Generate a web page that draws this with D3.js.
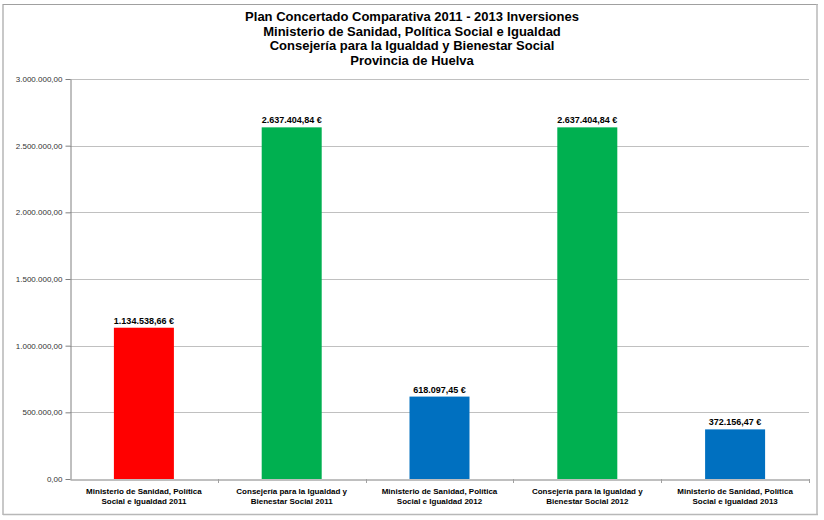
<!DOCTYPE html>
<html><head><meta charset="utf-8">
<script src="https://cdn.jsdelivr.net/npm/d3@7"></script>
<style>body{margin:0;background:#fff}svg{display:block;font-family:"Liberation Sans",Arial,sans-serif}</style>
</head><body><svg id="c" width="824" height="520"></svg>
<script>
const titleLines = ["Plan Concertado Comparativa 2011 - 2013 Inversiones","Ministerio de Sanidad, Política Social e Igualdad","Consejería para la Igualdad y Bienestar Social","Provincia de Huelva"];
const categories = [
  ["Ministerio de Sanidad, Política","Social e Igualdad  2011"],
  ["Consejería para la Igualdad y","Bienestar Social  2011"],
  ["Ministerio de Sanidad, Política","Social e Igualdad 2012"],
  ["Consejería para la Igualdad y","Bienestar Social  2012"],
  ["Ministerio de Sanidad, Política","Social e Igualdad 2013"]
];
const values = [1134538.66, 2637404.84, 618097.45, 2637404.84, 372156.47];
const colors = ["#ff0000","#00b050","#0070c0","#00b050","#0070c0"];
const yTicks = [0,500000,1000000,1500000,2000000,2500000,3000000];

const fmtLoc = d3.formatLocale({decimal:",",thousands:".",grouping:[3],currency:["","\u00a0€"]});
const fmtTick = fmtLoc.format(",.2f");
const fmtVal = v => fmtLoc.format(",.2f")(v) + " €";

const svg = d3.select("#c");
// outer frame
svg.append("line").attr("x1",3).attr("x2",3).attr("y1",4).attr("y2",515).attr("stroke","#c8c8c8").attr("stroke-width",2);
svg.append("line").attr("x1",3).attr("x2",818).attr("y1",4.5).attr("y2",4.5).attr("stroke","#a0a0a0").attr("stroke-width",1);
svg.append("line").attr("x1",817).attr("x2",817).attr("y1",4).attr("y2",515).attr("stroke","#b8b8b8").attr("stroke-width",1.5);
svg.append("line").attr("x1",3).attr("x2",818).attr("y1",514.5).attr("y2",514.5).attr("stroke","#b8b8b8").attr("stroke-width",1.5);

const m = {l:70, r:809, t:79, b:479};
const x = d3.scaleBand().domain(d3.range(categories.length)).range([m.l,m.r]).paddingInner(0).paddingOuter(0);
const y = d3.scaleLinear().domain([0,3000000]).range([m.b,m.t]);

// title
const tt = svg.append("text").attr("text-anchor","middle").attr("font-weight","bold").attr("font-size",13).attr("fill","#000");
titleLines.forEach((t,i)=>tt.append("tspan").attr("x",412).attr("y",21+i*14.5).text(t));

// gridlines
svg.append("g").selectAll("line").data(yTicks.filter(d=>d>0)).join("line")
  .attr("x1",m.l).attr("x2",m.r).attr("y1",d=>Math.round(y(d))+0.5).attr("y2",d=>Math.round(y(d))+0.5)
  .attr("stroke","#c0c0c0").attr("stroke-width",1.2);

// y axis
const ya = svg.append("g").attr("transform",`translate(${m.l+0.5},0)`)
  .call(d3.axisLeft(y).tickValues(yTicks).tickFormat(fmtTick).tickSize(5).tickSizeOuter(0));
ya.select(".domain").attr("stroke","#808080");
ya.selectAll(".tick line").attr("stroke","#808080");
ya.selectAll(".tick text").attr("font-size",8).attr("fill","#333").attr("font-family","Liberation Sans, Arial, sans-serif").attr("x",-8);

// bars
const bw = 60;
svg.append("g").selectAll("rect").data(values).join("rect")
  .attr("x",(d,i)=>x(i)+x.bandwidth()/2-bw/2).attr("width",bw)
  .attr("y",d=>y(d)).attr("height",d=>y(0)-y(d)).attr("fill",(d,i)=>colors[i]);

// value labels
svg.append("g").selectAll("text").data(values).join("text")
  .attr("x",(d,i)=>x(i)+x.bandwidth()/2).attr("y",d=>y(d)-4)
  .attr("text-anchor","middle").attr("font-weight","bold").attr("font-size",9).attr("fill","#000")
  .text(fmtVal);

// x axis
const xa = svg.append("g").attr("transform",`translate(0,${m.b+0.5})`)
  .call(d3.axisBottom(x).tickValues([]).tickSizeOuter(0));
xa.select(".domain").attr("stroke","#808080");
// band boundary ticks
svg.append("g").selectAll("line").data(d3.range(1,categories.length+1)).join("line")
  .attr("x1",i=>Math.round(i===categories.length? m.r : x(i))+0.5).attr("x2",i=>Math.round(i===categories.length? m.r : x(i))+0.5)
  .attr("y1",m.b).attr("y2",m.b+4).attr("stroke","#a0a0a0");

// category labels
const cl = svg.append("g").selectAll("text").data(categories).join("text")
  .attr("text-anchor","middle").attr("font-weight","bold").attr("font-size",8).attr("fill","#000");
cl.each(function(lines,i){
  const t = d3.select(this);
  lines.forEach((s,j)=>t.append("tspan").attr("x",x(i)+x.bandwidth()/2).attr("y",494+j*9.5).text(s));
});
</script></body></html>
